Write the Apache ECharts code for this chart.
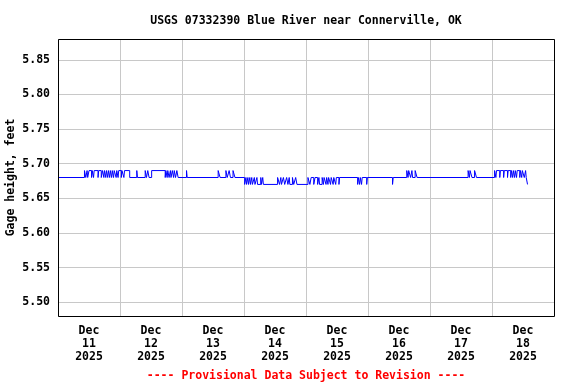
<!DOCTYPE html>
<html>
<head>
<meta charset="utf-8">
<script src="https://cdn.jsdelivr.net/npm/echarts@6/dist/echarts.min.js"></script>
<style>
html,body{margin:0;padding:0;background:#fff;}
#chart{width:576px;height:384px;}
</style>
</head>
<body>
<div id="chart"></div>
<script>
// Day labels (centered in each day band), Dec 11 – Dec 18, 2025
const dayLabels = ['Dec\n11\n2025','Dec\n12\n2025','Dec\n13\n2025','Dec\n14\n2025','Dec\n15\n2025','Dec\n16\n2025','Dec\n17\n2025','Dec\n18\n2025'];
const yTickLabels = ['5.50','5.55','5.60','5.65','5.70','5.75','5.80','5.85'];
// Gage height change points: [hours since Dec 11 2025 00:00, gage height (ft) from then on]
const gageSteps = [
  [0,5.68],[10.25,5.69],[10.75,5.68],[11.25,5.69],[11.5,5.68],[12.0,5.69],[13.0,5.68],[13.25,5.69],[13.75,5.68],
  [14.0,5.69],[15.5,5.68],[15.75,5.69],[16.75,5.68],[17.25,5.69],[17.75,5.68],[18.0,5.69],[18.5,5.68],[18.75,5.69],
  [19.25,5.68],[19.5,5.69],[20.0,5.68],[20.25,5.69],[20.75,5.68],[21.0,5.69],[21.5,5.68],[21.75,5.69],[22.5,5.68],
  [22.75,5.69],[23.25,5.68],[23.5,5.69],[24.5,5.68],[24.75,5.69],[25.5,5.68],[25.75,5.69],[27.75,5.68],
  [30.5,5.69],[30.75,5.68],[33.75,5.69],[34.25,5.68],[34.75,5.69],[35.25,5.68],[36.25,5.69],[41.5,5.68],
  [41.75,5.69],[42.25,5.68],[42.5,5.69],[43.0,5.68],[43.5,5.69],[43.75,5.68],[44.25,5.69],[44.75,5.68],
  [45.0,5.69],[45.5,5.68],[46.0,5.69],[46.5,5.68],[49.75,5.69],[50.0,5.68],
  [62.0,5.69],[62.75,5.68],[65.0,5.69],[65.5,5.68],[66.25,5.69],[66.75,5.68],[67.75,5.69],[68.5,5.68],
  [72.25,5.67],[72.75,5.68],[73.0,5.67],[73.5,5.68],[73.75,5.67],[74.25,5.68],[74.5,5.67],[75.0,5.68],
  [75.25,5.67],[76.0,5.68],[76.25,5.67],[77.0,5.68],[77.25,5.67],[78.5,5.68],[78.75,5.67],[79.25,5.68],[79.5,5.67],
  [85.0,5.68],[85.75,5.67],[86.25,5.68],[86.5,5.67],[87.25,5.68],[87.75,5.67],[88.5,5.68],[89.0,5.67],
  [89.5,5.68],[89.75,5.67],[90.75,5.68],[91.25,5.67],[92.0,5.68],[92.5,5.67],
  [96.75,5.68],[97.5,5.67],[98.0,5.68],[99.0,5.67],[99.5,5.68],[100.5,5.67],[101.0,5.68],[101.25,5.67],
  [102.25,5.68],[102.75,5.67],[103.0,5.68],[103.75,5.67],[104.0,5.68],[104.5,5.67],[104.75,5.68],[105.5,5.67],
  [105.75,5.68],[106.5,5.67],[106.75,5.68],[107.5,5.67],[107.75,5.68],[108.75,5.67],[109.0,5.68],
  [116.0,5.67],[116.25,5.68],[116.75,5.67],[117.0,5.68],[117.5,5.67],[117.75,5.68],[119.5,5.67],[119.75,5.68],
  [129.5,5.67],[129.75,5.68],
  [135.0,5.69],[135.5,5.68],[135.75,5.69],[136.5,5.68],[137.0,5.69],[137.25,5.68],[138.25,5.69],[139.0,5.68],
  [158.75,5.69],[159.25,5.68],[159.5,5.69],[160.25,5.68],[161.25,5.69],[162.0,5.68],
  [169.0,5.69],[169.5,5.68],[169.75,5.69],[171.0,5.68],[171.25,5.69],[172.5,5.68],[172.75,5.69],[174.0,5.68],
  [174.25,5.69],[175.25,5.68],[175.5,5.69],[176.0,5.68],[176.25,5.69],[176.75,5.68],[177.0,5.69],[177.5,5.68],
  [177.75,5.69],[178.75,5.68],[179.0,5.69],[179.5,5.68],[179.75,5.69],[180.5,5.68],[181.0,5.69],[181.25,5.68],
  [181.75,5.67],[182.0,5.67]
];

const FONT = 'DejaVu Sans Mono';
const chart = echarts.init(document.getElementById('chart'));
chart.setOption({
  animation: false,
  backgroundColor: '#fff',
  title: {
    text: 'USGS 07332390 Blue River near Connerville, OK',
    left: 301, top: 10, textAlign: 'center',
    textStyle: {fontFamily: FONT, fontSize: 11.5, fontWeight: 'bold', color: '#000'}
  },
  grid: {left: 58, right: 22, top: 39, bottom: 68, containLabel: false, outerBoundsMode: 'none',
    show: false},
  xAxis: [
    {type: 'value', min: 0, max: 192, interval: 24,
     axisLine: {show: false}, axisTick: {show: false}, axisLabel: {show: false},
     splitLine: {show: true, lineStyle: {color: '#c8c8c8', width: 1}}},
    {type: 'category', data: dayLabels, position: 'bottom', boundaryGap: true,
     axisLine: {show: false}, axisTick: {show: false}, splitLine: {show: false},
     axisLabel: {interval: 0, margin: 9, fontFamily: FONT, fontSize: 11.5, fontWeight: 'bold', color: '#000', lineHeight: 13}}
  ],
  yAxis: {
    type: 'value', min: 5.48, max: 5.88, splitNumber: 8,
    name: 'Gage height, feet', nameLocation: 'middle', nameGap: 41, nameRotate: 90, nameMoveOverlap: false,
    nameTextStyle: {fontFamily: FONT, fontSize: 11.5, fontWeight: 'bold', color: '#000'},
    axisLine: {show: false}, axisTick: {show: false},
    axisLabel: {margin: 8, fontFamily: FONT, fontSize: 11.5, fontWeight: 'bold', color: '#000',
      formatter: v => { const s = v.toFixed(2); return yTickLabels.includes(s) ? s : ''; }},
    splitLine: {show: true, lineStyle: {color: '#c8c8c8', width: 1}}
  },
  series: [{
    type: 'line', xAxisIndex: 0, data: gageSteps, step: 'end', showSymbol: false,
    lineStyle: {color: '#0000ff', width: 1}, itemStyle: {color: '#0000ff'}
  }],
  graphic: [{
    type: 'text', x: 306, y: 370,
    style: {text: '---- Provisional Data Subject to Revision ----', fill: '#ff0000', align: 'center',
      font: 'bold 11.5px "DejaVu Sans Mono"'}
  }, {
    type: 'rect', shape: {x: 58.5, y: 39.5, width: 496, height: 277}, z: 100,
    style: {fill: 'none', stroke: '#000', lineWidth: 1}, silent: true
  }]
});
</script>
</body>
</html>
